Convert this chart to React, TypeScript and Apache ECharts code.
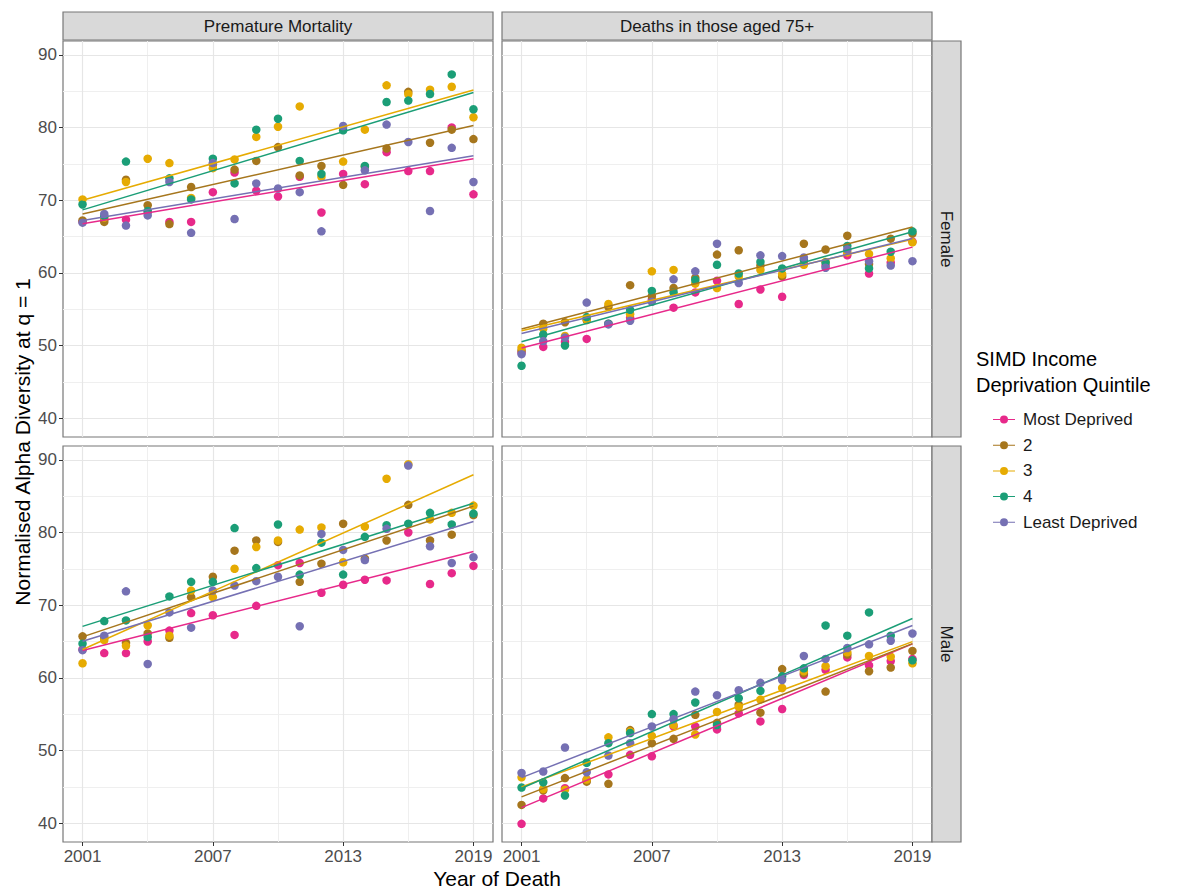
import React, { useEffect, useRef } from "react";
import * as echarts from "echarts";

const YEARS = [2001, 2002, 2003, 2004, 2005, 2006, 2007, 2008, 2009, 2010, 2011, 2012, 2013, 2014, 2015, 2016, 2017, 2018, 2019];
const GROUPS = ["Most Deprived", "2", "3", "4", "Least Deprived"];
const COLORS = ["#E7298A", "#A6761D", "#E6AB02", "#1B9E77", "#7570B3"];
const COL_LABELS = ["Premature Mortality", "Deaths in those aged 75+"];
const ROW_LABELS = ["Female", "Male"];
const X_TICKS = [2001, 2007, 2013, 2019];
const X_MINOR = [2004, 2010, 2016];
const Y_TICKS = [40, 50, 60, 70, 80, 90];
const Y_MINOR = [45, 55, 65, 75, 85];

// Premature Mortality, Female
const pmFemaleMost = [67.0, 67.3, 67.3, 68.4, 67.0, 67.0, 71.1, 73.8, 71.3, 70.5, 73.2, 68.3, 73.6, 72.2, 76.6, 74.0, 74.0, 80.0, 70.8];
const pmFemale2 = [67.2, 67.0, 72.8, 69.3, 66.7, 71.8, 74.9, 74.2, 75.4, 77.3, 73.4, 74.7, 72.1, 74.6, 77.1, 84.9, 77.9, 79.7, 78.4];
const pmFemale3 = [70.1, 67.6, 72.5, 75.7, 75.1, 70.3, 74.4, 75.6, 78.7, 80.1, 82.9, 73.2, 75.3, 79.7, 85.8, 84.6, 85.2, 85.6, 81.4];
const pmFemale4 = [69.4, 67.8, 75.3, 68.5, 73.0, 70.1, 75.7, 72.3, 79.7, 81.2, 75.4, 73.6, 79.6, 74.7, 83.5, 83.7, 84.6, 87.3, 82.5];
const pmFemaleLeast = [66.9, 68.1, 66.5, 67.9, 72.5, 65.5, 75.1, 67.4, 72.3, 71.6, 71.1, 65.7, 80.2, 74.1, 80.4, 78.0, 68.5, 77.2, 72.5];

// Deaths in those aged 75+, Female
const oldFemaleMost = [49.0, 49.8, 50.5, 50.9, 53.0, 53.8, 56.3, 55.2, 57.3, 58.9, 55.7, 57.7, 56.7, 61.3, 61.0, 62.4, 59.9, 61.4, 64.3];
const oldFemale2 = [49.3, 53.0, 53.2, 53.5, 55.3, 58.3, 56.8, 57.9, 59.3, 62.5, 63.1, 61.0, 59.5, 64.0, 63.2, 65.1, 61.2, 64.7, 65.4];
const oldFemale3 = [49.7, 52.3, 51.3, 53.6, 55.7, 54.3, 60.2, 60.4, 58.5, 57.9, 59.5, 60.4, 59.8, 61.1, 61.5, 62.8, 62.6, 62.0, 64.2];
const oldFemale4 = [47.2, 51.5, 50.0, 53.9, 53.0, 54.9, 57.5, 57.3, 59.0, 61.1, 59.9, 61.5, 60.6, 61.8, 61.4, 63.7, 60.6, 62.9, 65.7];
const oldFemaleLeast = [48.8, 50.6, 51.1, 55.9, 52.9, 53.4, 56.0, 59.1, 60.2, 64.0, 58.6, 62.4, 62.3, 62.1, 60.7, 63.2, 61.6, 61.0, 61.6];

// Premature Mortality, Male
const pmMaleMost = [63.9, 63.4, 63.4, 65.0, 66.5, 68.9, 68.6, 65.9, 69.9, 75.5, 75.8, 71.7, 72.8, 73.5, 73.4, 80.0, 72.9, 74.4, 75.4];
const pmMale2 = [65.7, 65.5, 64.8, 66.1, 65.5, 71.1, 73.9, 77.5, 78.9, 78.7, 73.2, 75.7, 81.2, 76.4, 78.9, 83.8, 78.9, 79.7, 82.4];
const pmMale3 = [62.0, 65.2, 64.4, 67.2, 65.8, 72.0, 71.1, 75.0, 78.0, 78.9, 80.4, 80.7, 75.9, 80.8, 87.4, 89.4, 81.8, 82.7, 83.7];
const pmMale4 = [64.7, 67.8, 67.9, 65.6, 71.2, 73.2, 73.2, 80.6, 75.1, 81.1, 74.2, 78.6, 74.2, 79.4, 81.0, 81.2, 82.7, 81.1, 82.6];
const pmMaleLeast = [63.8, 65.8, 71.9, 61.9, 69.0, 66.9, 72.0, 72.7, 73.3, 73.9, 67.1, 79.8, 77.6, 76.2, 80.5, 89.2, 78.1, 75.8, 76.6];

// Deaths in those aged 75+, Male
const oldMaleMost = [39.9, 43.4, 44.8, 46.0, 46.7, 49.4, 49.2, 53.3, 53.3, 52.9, 55.1, 54.0, 55.7, 60.4, 61.1, 62.8, 61.7, 62.3, 62.6];
const oldMale2 = [42.5, 44.5, 46.2, 45.7, 45.4, 52.8, 51.0, 51.6, 54.9, 53.8, 56.3, 55.2, 61.2, 60.6, 58.1, 63.2, 60.9, 61.4, 63.7];
const oldMale3 = [46.3, 44.7, 44.6, 46.0, 51.8, 52.6, 52.0, 53.5, 52.2, 55.3, 56.0, 57.0, 58.6, 60.9, 61.6, 63.5, 63.0, 62.9, 62.0];
const oldMale4 = [44.9, 45.6, 43.8, 48.3, 51.0, 52.4, 55.0, 55.0, 56.6, 53.5, 57.2, 58.2, 60.2, 61.3, 67.2, 65.8, 69.0, 65.8, 62.4];
const oldMaleLeast = [46.9, 47.1, 50.4, 47.0, 49.3, 51.0, 53.3, 54.3, 58.1, 57.6, 58.3, 59.3, 59.7, 63.0, 62.6, 64.1, 64.6, 65.1, 66.1];

const PANELS = [
  [pmFemaleMost, pmFemale2, pmFemale3, pmFemale4, pmFemaleLeast],
  [oldFemaleMost, oldFemale2, oldFemale3, oldFemale4, oldFemaleLeast],
  [pmMaleMost, pmMale2, pmMale3, pmMale4, pmMaleLeast],
  [oldMaleMost, oldMale2, oldMale3, oldMale4, oldMaleLeast],
];

const FONT = "'Liberation Sans', Arial, sans-serif";
const GRIDS = [
  { left: 63, top: 41, width: 430, height: 396 },
  { left: 502, top: 41, width: 430, height: 396 },
  { left: 63, top: 446, width: 430, height: 396 },
  { left: 502, top: 446, width: 430, height: 396 },
];

function fit(xs: number[], ys: number[]) {
  const n = xs.length;
  const mx = xs.reduce((a, b) => a + b, 0) / n;
  const my = ys.reduce((a, b) => a + b, 0) / n;
  let sxy = 0, sxx = 0;
  for (let i = 0; i < n; i++) {
    sxy += (xs[i] - mx) * (ys[i] - my);
    sxx += (xs[i] - mx) * (xs[i] - mx);
  }
  const b = sxy / sxx;
  const a = my - b * mx;
  return (x: number) => a + b * x;
}

function buildOption() {
  const xAxis: any[] = [];
  const yAxis: any[] = [];
  const series: any[] = [];
  const major = { color: "#E6E6E6", width: 1.2, type: "solid" };
  const minor = { color: "#EFEFEF", width: 1, type: "solid" };

  GRIDS.forEach((_, p) => {
    const bottomRow = p >= 2;
    const leftCol = p % 2 === 0;
    xAxis.push({
      type: "value", gridIndex: p, min: 2000.1, max: 2019.9,
      splitLine: { show: false }, axisLine: { show: false },
      axisTick: { show: bottomRow, customValues: X_TICKS, length: 4, lineStyle: { color: "#333" } },
      axisLabel: { show: bottomRow, customValues: X_TICKS, formatter: (v: number) => String(v), fontSize: 17, color: "#4D4D4D", margin: 6, fontFamily: FONT },
    });
    yAxis.push({
      type: "value", gridIndex: p, min: 37.4, max: 91.9,
      splitLine: { show: false }, axisLine: { show: false },
      axisTick: { show: leftCol, customValues: Y_TICKS, length: 4, lineStyle: { color: "#333" } },
      axisLabel: { show: leftCol, customValues: Y_TICKS, formatter: (v: number) => String(v), fontSize: 17, color: "#4D4D4D", margin: 6, fontFamily: FONT },
    });
    series.push({
      type: "line", name: "grid" + p, xAxisIndex: p, yAxisIndex: p, data: [], z: 1, silent: true,
      markLine: {
        silent: true, symbol: ["none", "none"], label: { show: false }, animation: false, z: 1,
        data: [
          ...X_MINOR.map((v) => ({ xAxis: v, lineStyle: minor })),
          ...Y_MINOR.map((v) => ({ yAxis: v, lineStyle: minor })),
          ...X_TICKS.map((v) => ({ xAxis: v, lineStyle: major })),
          ...Y_TICKS.map((v) => ({ yAxis: v, lineStyle: major })),
        ],
      },
    });
  });

  PANELS.forEach((groups, p) => {
    groups.forEach((vals, g) => {
      series.push({
        type: "scatter", name: GROUPS[g], xAxisIndex: p, yAxisIndex: p, z: 2,
        symbolSize: 8.5, itemStyle: { color: COLORS[g], opacity: 1 },
        data: YEARS.map((y, i) => [y, vals[i]]),
      });
    });
  });
  PANELS.forEach((groups, p) => {
    groups.forEach((vals, g) => {
      const f = fit(YEARS, vals);
      const x0 = YEARS[0], x1 = YEARS[YEARS.length - 1];
      series.push({
        type: "line", name: GROUPS[g], xAxisIndex: p, yAxisIndex: p, z: 3,
        showSymbol: false, symbol: "none", silent: true,
        lineStyle: { color: COLORS[g], width: 1.5 },
        itemStyle: { color: COLORS[g] },
        data: [[x0, f(x0)], [x1, f(x1)]],
      });
    });
  });

  const stripStyle = { fill: "#D9D9D9", stroke: "#777", lineWidth: 1.2 };
  const graphic: any[] = [];
  COL_LABELS.forEach((lab, c) => {
    const g = GRIDS[c];
    graphic.push({ type: "rect", shape: { x: g.left, y: 12, width: g.width, height: 28 }, style: stripStyle, z: 10 });
    graphic.push({ type: "text", x: g.left + g.width / 2, y: 26, z: 11, style: { text: lab, fill: "#1A1A1A", fontSize: 17, fontFamily: FONT, align: "center", verticalAlign: "middle" } });
  });
  ROW_LABELS.forEach((lab, r) => {
    const g = GRIDS[r * 2 + 1];
    graphic.push({ type: "rect", shape: { x: 932, y: g.top, width: 29, height: g.height }, style: stripStyle, z: 10 });
    graphic.push({ type: "text", x: 946.5, y: g.top + g.height / 2, rotation: -Math.PI / 2, z: 11, style: { text: lab, fill: "#1A1A1A", fontSize: 17, fontFamily: FONT, align: "center", verticalAlign: "middle" } });
  });
  graphic.push({ type: "text", x: 22, y: 442, rotation: Math.PI / 2, style: { text: "Normalised Alpha Diversity at q = 1", fill: "#000", fontSize: 21, fontFamily: FONT, align: "center", verticalAlign: "middle" } });
  graphic.push({ type: "text", x: 497, y: 878, style: { text: "Year of Death", fill: "#000", fontSize: 21, fontFamily: FONT, align: "center", verticalAlign: "middle" } });
  graphic.push({ type: "text", x: 976, y: 359, style: { text: "SIMD Income", fill: "#000", fontSize: 20, fontFamily: FONT, align: "left", verticalAlign: "middle" } });
  graphic.push({ type: "text", x: 976, y: 385, style: { text: "Deprivation Quintile", fill: "#000", fontSize: 20, fontFamily: FONT, align: "left", verticalAlign: "middle" } });

  return {
    animation: false,
    backgroundColor: "#FFFFFF",
    grid: GRIDS.map((g) => ({ ...g, show: true, backgroundColor: "#FFFFFF", borderColor: "#777", borderWidth: 1.2, containLabel: false })),
    xAxis, yAxis, series, graphic,
    legend: {
      orient: "vertical", left: 988, top: 406, itemWidth: 22, itemHeight: 8, itemGap: 8.7,
      icon: "path://M0,4 L7,4 L7,5 L0,5 Z M15,4 L22,4 L22,5 L15,5 Z M15,4.5 A4,4 0 1 1 7,4.5 A4,4 0 1 1 15,4.5 Z",
      data: GROUPS, selectedMode: false,
      textStyle: { fontSize: 17, color: "#1A1A1A", fontFamily: FONT, padding: [0, 0, 0, 3] },
    },
  };
}

export default function App() {
  const ref = useRef<HTMLDivElement>(null);
  useEffect(() => {
    if (!ref.current) return;
    const chart = echarts.init(ref.current, undefined, { renderer: "svg" });
    chart.setOption(buildOption() as any);
    return () => chart.dispose();
  }, []);
  return <div ref={ref} style={{ position: "fixed", left: 0, top: 0, width: 1187, height: 890 }} />;
}
